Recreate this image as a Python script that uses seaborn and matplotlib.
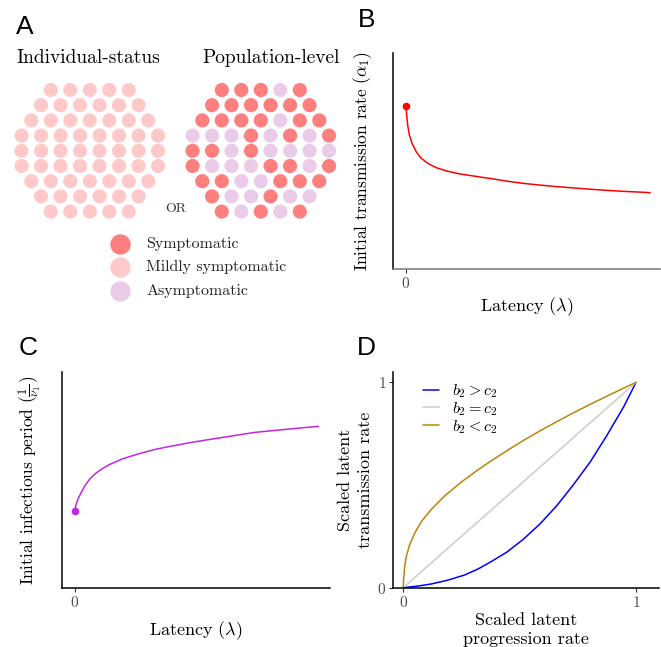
import numpy as np
import pandas as pd
import matplotlib
matplotlib.use("Agg")
import matplotlib.pyplot as plt
import seaborn as sns

# ---- panel A: disease status of 60 individuals (hexagonal rows) ----
row_sizes = [5, 6, 7, 8, 8, 8, 7, 6, 5]
population_rows = ["SSSAS", "SSSSSS", "SSSSASS", "AAASASAS", "SSASAAAA",
                   "SAAASSAS", "SSAASSS", "SAASAA", "SASAS"]
individual_rows = ["M" * n for n in row_sizes]
status_names = {"S": "Symptomatic", "M": "Mildly symptomatic", "A": "Asymptomatic"}
status_colors = {"Symptomatic": "#FF7F7F", "Mildly symptomatic": "#FFC9C9",
                 "Asymptomatic": "#EBCCE8"}

# ---- panel B: initial transmission rate vs latency ----
b_latency = [0.0, 0.003, 0.007, 0.014, 0.025, 0.042, 0.062, 0.090, 0.124, 0.165,
             0.220, 0.302, 0.344, 0.41, 0.481, 0.55, 0.618, 0.686, 0.754, 0.82,
             0.891, 0.95, 1.0]
b_alpha = [0.755, 0.714, 0.667, 0.621, 0.582, 0.543, 0.513, 0.489, 0.469, 0.454,
           0.440, 0.426, 0.419, 0.407, 0.396, 0.388, 0.381, 0.375, 0.369, 0.364,
           0.359, 0.356, 0.353]

# ---- panel C: initial infectious period vs latency ----
c_latency = [0.0, 0.004, 0.0136, 0.0275, 0.041, 0.06, 0.082, 0.11, 0.137, 0.192,
             0.26, 0.329, 0.40, 0.466, 0.535, 0.603, 0.67, 0.740, 0.81, 0.877,
             0.94, 1.0]
c_period = [0.357, 0.384, 0.415, 0.446, 0.474, 0.503, 0.528, 0.551, 0.569, 0.597,
            0.621, 0.642, 0.658, 0.672, 0.685, 0.697, 0.709, 0.721, 0.729, 0.736,
            0.743, 0.749]

# ---- panel D: scaled latent transmission vs progression ----
d_x_convex = [0.0, 0.063, 0.12, 0.192, 0.264, 0.321, 0.373, 0.445, 0.516, 0.588,
              0.660, 0.730, 0.803, 0.875, 0.947, 1.0]
d_convex = [0.0, 0.008, 0.018, 0.037, 0.062, 0.091, 0.124, 0.173, 0.236, 0.311,
            0.400, 0.500, 0.612, 0.742, 0.881, 1.0]
d_x_linear = [0.0, 1.0]
d_linear = [0.0, 1.0]
d_x_concave = [0.0, 0.0014, 0.006, 0.013, 0.027, 0.049, 0.077, 0.121, 0.178, 0.25,
               0.321, 0.373, 0.445, 0.516, 0.588, 0.660, 0.730, 0.803, 0.875,
               0.947, 1.0]
d_concave = [0.0, 0.037, 0.102, 0.151, 0.208, 0.265, 0.321, 0.382, 0.447, 0.515,
             0.574, 0.614, 0.667, 0.717, 0.764, 0.809, 0.851, 0.893, 0.933,
             0.972, 1.0]
d_labels = [r"$b_2 > c_2$", r"$b_2 = c_2$", r"$b_2 < c_2$"]
d_colors = ["#0000FF", "#CCCCCC", "#B8860B"]

sns.set_theme(style="white")
plt.rcParams["font.family"] = ["cmr10", "DejaVu Serif"]
plt.rcParams["mathtext.fontset"] = "cm"
plt.rcParams["axes.unicode_minus"] = False
plt.rcParams["axes.formatter.use_mathtext"] = True
plt.rcParams["text.color"] = "black"
plt.rcParams["axes.labelcolor"] = "black"

W, H = 661, 647
fig = plt.figure(figsize=(W / 100, H / 100), dpi=100)


def px_axes(left, top, right, bottom):
    return fig.add_axes([left / W, 1 - bottom / H, (right - left) / W, (bottom - top) / H])


def grid_frame(rows, cx, label):
    recs = []
    for r, row in enumerate(rows):
        n = len(row)
        for i, code in enumerate(row):
            recs.append({"x": cx + (i - (n - 1) / 2) * 19.5, "y": 90 + r * 15.2,
                         "status": status_names[code], "grid": label})
    return pd.DataFrame(recs)


# panel A
ax_a = px_axes(0, 40, 360, 320)
ax_a.set_xlim(0, 360)
ax_a.set_ylim(320, 40)
ax_a.axis("off")
dots = pd.concat([grid_frame(individual_rows, 89.8, "ind"),
                  grid_frame(population_rows, 260.8, "pop")])
sns.scatterplot(data=dots, x="x", y="y", hue="status", palette=status_colors,
                s=104, linewidth=0, legend=False, ax=ax_a)
ax_a.text(88, 58, "Individual-status", ha="center", va="center", fontsize=14)
ax_a.text(271, 58, "Population-level", ha="center", va="center", fontsize=14)
ax_a.text(176, 209, "OR", ha="center", va="center", fontsize=10, color="#333333")
for k, name in enumerate(["Symptomatic", "Mildly symptomatic", "Asymptomatic"]):
    yy = 244 + k * 23.3
    ax_a.scatter([120], [yy], s=215, color=status_colors[name], linewidth=0)
    ax_a.text(146, yy, name, va="center", fontsize=11.5, color="#222222")


def style_axes(ax):
    sns.despine(ax=ax)
    for s in ["left", "bottom"]:
        ax.spines[s].set_color("black")
        ax.spines[s].set_linewidth(1.1)
    ax.tick_params(axis="both", which="both", length=3, width=0.8, color="#333333",
                   labelcolor="#4D4D4D", labelsize=11, pad=2, left=True, bottom=True)


# panel B
ax_b = px_axes(393, 53.3, 660, 268.7)
sns.lineplot(x=b_latency, y=b_alpha, color="red", linewidth=1.1, ax=ax_b)
sns.scatterplot(x=[b_latency[0]], y=[b_alpha[0]], color="red", s=30, linewidth=0, ax=ax_b)
ax_b.set_xlim(-0.053, 1.04)
ax_b.set_ylim(0, 1)
ax_b.set_xticks([0])
ax_b.set_yticks([])
style_axes(ax_b)
ax_b.spines["bottom"].set_color("#777777")
ax_b.set_xlabel(r"Latency ($\lambda$)", fontsize=13, labelpad=3)
ax_b.set_ylabel(r"Initial transmission rate ($\alpha_1$)", fontsize=12.5, labelpad=14)

# panel C
ax_c = px_axes(62.3, 372.3, 330, 587.7)
sns.lineplot(x=c_latency, y=c_period, color="#C026E8", linewidth=1.1, ax=ax_c)
sns.scatterplot(x=[c_latency[0]], y=[c_period[0]], color="#C026E8", s=30, linewidth=0, ax=ax_c)
ax_c.set_xlim(-0.052, 1.048)
ax_c.set_ylim(0, 1)
ax_c.set_xticks([0])
ax_c.set_yticks([])
style_axes(ax_c)
ax_c.set_xlabel(r"Latency ($\lambda$)", fontsize=13, labelpad=7)
ax_c.set_ylabel(r"Initial infectious period ($\frac{1}{\nu_1}$)", fontsize=12.5, labelpad=14)

# panel D
ax_d = px_axes(393, 372.3, 659.3, 587.7)
for xs, ys, lab, col in zip([d_x_convex, d_x_linear, d_x_concave],
                            [d_convex, d_linear, d_concave], d_labels, d_colors):
    sns.lineplot(x=xs, y=ys, color=col, linewidth=1.1, label=lab, ax=ax_d)
ax_d.set_xlim(-0.044, 1.10)
ax_d.set_ylim(0, 1.049)
ax_d.set_xticks([0, 1])
ax_d.set_yticks([0, 1])
style_axes(ax_d)
ax_d.set_xlabel("Scaled latent\nprogression rate", fontsize=13, labelpad=2, linespacing=1.35)
ax_d.set_ylabel("Scaled latent\ntransmission rate", fontsize=13, labelpad=3, linespacing=1.35)
ax_d.legend(loc="upper left", bbox_to_anchor=(0.06, 1.02), frameon=False, fontsize=11.5,
            handlelength=1.0, handletextpad=0.8, labelspacing=0.0)

# panel letters
for letter, (x, y) in zip("ABCD", [(25, 27), (367, 20), (28, 348), (366, 348)]):
    fig.text(x / W, 1 - y / H, letter, ha="center", va="center", fontsize=19,
             family="Liberation Sans", color="black")

fig.savefig("out.png", dpi=100)
